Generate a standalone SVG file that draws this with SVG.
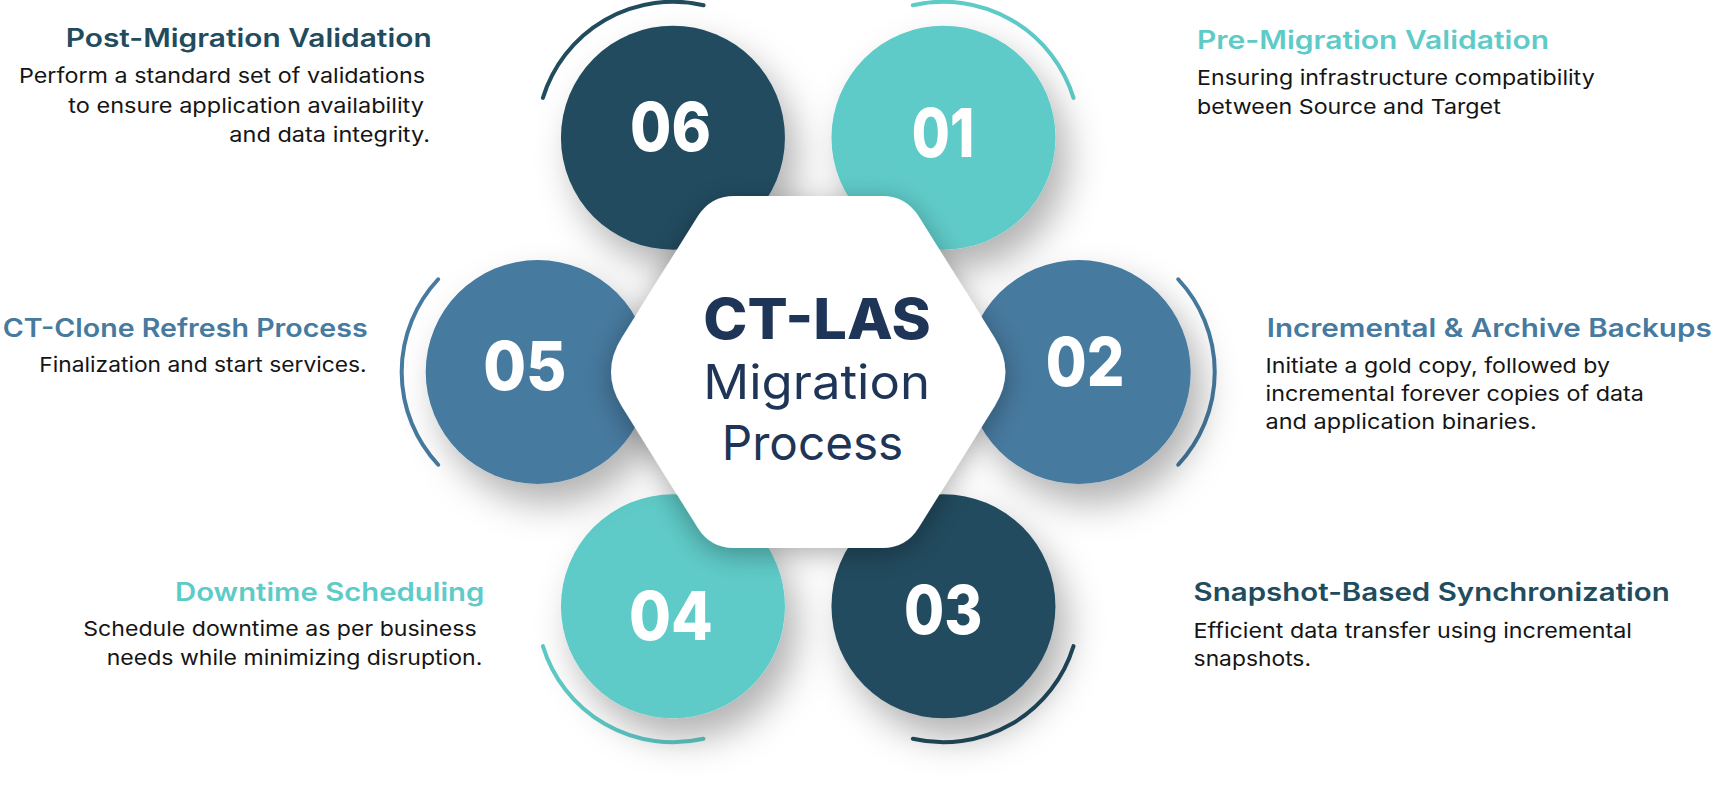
<svg xmlns="http://www.w3.org/2000/svg" width="1715" height="806" viewBox="0 0 1715 806">
<style>
text{font-family:Inter,"Liberation Sans",sans-serif}
.title{font-size:25px;font-weight:600}
.body{font-size:20.5px;font-weight:400;fill:#151515}
.num{font-size:68px;font-weight:800;fill:#ffffff}
.arc{fill:none;stroke-width:4;stroke-linecap:round}
.dark{fill:#214C5E}
.teal{fill:#5ECBC8}
.blue{fill:#467A9F}
.sdark{stroke:#214C5E}
.steal{stroke:#5ECBC8}
.sblue{stroke:#467A9F}
.center{fill:#1E3557}
</style>
<defs>
<filter id="csh" x="-50%" y="-50%" width="200%" height="200%">
<feDropShadow dx="12" dy="20" stdDeviation="18" flood-color="#000" flood-opacity="0.3"/>
</filter>
<filter id="hsh" x="-30%" y="-30%" width="160%" height="160%">
<feDropShadow dx="0" dy="6" stdDeviation="14" flood-color="#000" flood-opacity="0.32"/>
</filter>
</defs>
<rect width="1715" height="806" fill="#ffffff"/>

<g id="node-06">
<path class="arc sdark" d="M 542.9 97.9 A 136 136 0 0 1 703.55 5.2"/>
<circle class="dark" cx="672.95" cy="137.7" r="112" filter="url(#csh)"/>
<text class="num" x="630" y="150.7" textLength="81" lengthAdjust="spacingAndGlyphs">06</text>
<text class="title" x="65.7" y="46.7" fill="#214C5E" textLength="366" lengthAdjust="spacingAndGlyphs">Post-Migration Validation</text>
<text class="body" x="19" y="82.7" textLength="406" lengthAdjust="spacingAndGlyphs">Perform a standard set of validations</text>
<text class="body" x="68.3" y="112.7" textLength="355.7" lengthAdjust="spacingAndGlyphs">to ensure application availability</text>
<text class="body" x="229.3" y="141.7" textLength="200.7" lengthAdjust="spacingAndGlyphs">and data integrity.</text>
</g>

<g id="node-01">
<path class="arc steal" d="M 912.85 5.2 A 136 136 0 0 1 1073.5 97.9"/>
<circle class="teal" cx="943.45" cy="137.7" r="112" filter="url(#csh)"/>
<text class="num" x="911.8" y="156.7" textLength="62.5" lengthAdjust="spacingAndGlyphs">01</text>
<text class="title" x="1197" y="48.8" fill="#5ECBC8" textLength="352" lengthAdjust="spacingAndGlyphs">Pre-Migration Validation</text>
<text class="body" x="1197" y="85.3" textLength="397.7" lengthAdjust="spacingAndGlyphs">Ensuring infrastructure compatibility</text>
<text class="body" x="1197" y="114.3" textLength="303.8" lengthAdjust="spacingAndGlyphs">between Source and Target</text>
</g>

<g id="node-02">
<path class="arc sblue" d="M 1178.2 279.25 A 136 136 0 0 1 1178.2 464.75"/>
<circle class="blue" cx="1078.7" cy="372" r="112" filter="url(#csh)"/>
<text class="num" x="1045.8" y="386" textLength="78.7" lengthAdjust="spacingAndGlyphs">02</text>
<text class="title" x="1266.7" y="336.7" fill="#467A9F" textLength="445" lengthAdjust="spacingAndGlyphs">Incremental &amp; Archive Backups</text>
<text class="body" x="1265.5" y="372.7" textLength="344.5" lengthAdjust="spacingAndGlyphs">Initiate a gold copy, followed by</text>
<text class="body" x="1265.5" y="401" textLength="378.5" lengthAdjust="spacingAndGlyphs">incremental forever copies of data</text>
<text class="body" x="1265.5" y="429.3" textLength="271.2" lengthAdjust="spacingAndGlyphs">and application binaries.</text>
</g>

<g id="node-03">
<path class="arc sdark" d="M 1073.5 646.1 A 136 136 0 0 1 912.85 738.8"/>
<circle class="dark" cx="943.45" cy="606.3" r="112" filter="url(#csh)"/>
<text class="num" x="904" y="634" textLength="78.5" lengthAdjust="spacingAndGlyphs">03</text>
<text class="title" x="1193.6" y="601" fill="#214C5E" textLength="476.2" lengthAdjust="spacingAndGlyphs">Snapshot-Based Synchronization</text>
<text class="body" x="1193.6" y="637.8" textLength="438.4" lengthAdjust="spacingAndGlyphs">Efficient data transfer using incremental</text>
<text class="body" x="1193.6" y="665.8" textLength="117.4" lengthAdjust="spacingAndGlyphs">snapshots.</text>
</g>

<g id="node-04">
<path class="arc steal" d="M 703.55 738.8 A 136 136 0 0 1 542.9 646.1"/>
<circle class="teal" cx="672.95" cy="606.3" r="112" filter="url(#csh)"/>
<text class="num" x="629" y="640" textLength="83.9" lengthAdjust="spacingAndGlyphs">04</text>
<text class="title" x="175" y="601" fill="#5ECBC8" textLength="309.3" lengthAdjust="spacingAndGlyphs">Downtime Scheduling</text>
<text class="body" x="83.3" y="636" textLength="393.4" lengthAdjust="spacingAndGlyphs">Schedule downtime as per business</text>
<text class="body" x="106.7" y="665" textLength="375.6" lengthAdjust="spacingAndGlyphs">needs while minimizing disruption.</text>
</g>

<g id="node-05">
<path class="arc sblue" d="M 438.2 464.75 A 136 136 0 0 1 438.2 279.25"/>
<circle class="blue" cx="537.7" cy="372" r="112" filter="url(#csh)"/>
<text class="num" x="483.2" y="390" textLength="83.3" lengthAdjust="spacingAndGlyphs">05</text>
<text class="title" x="2.7" y="336.7" fill="#467A9F" textLength="365" lengthAdjust="spacingAndGlyphs">CT-Clone Refresh Process</text>
<text class="body" x="39.3" y="371.7" textLength="327.4" lengthAdjust="spacingAndGlyphs">Finalization and start services.</text>
</g>

<g id="connectors"></g>

<g id="center-hub">
<path fill="#ffffff" filter="url(#hsh)" d="M 734.5 196 L 881.9 196 Q 905.9 196 918.6 216.35 L 994.8 338.1 Q 1016 372 994.8 405.9 L 918.6 527.65 Q 905.9 548 881.9 548 L 734.5 548 Q 710.5 548 697.8 527.65 L 621.6 405.9 Q 600.4 372 621.6 338.1 L 697.8 216.35 Q 710.5 196 734.5 196 Z"/>
<text class="center" x="703.3" y="339.3" font-size="56" font-weight="800" textLength="227.4" lengthAdjust="spacingAndGlyphs">CT-LAS</text>
<text class="center" x="703.3" y="399.3" font-size="48" font-weight="400" textLength="226.7" lengthAdjust="spacingAndGlyphs">Migration</text>
<text class="center" x="721.7" y="460" font-size="48" font-weight="400" textLength="181.6" lengthAdjust="spacingAndGlyphs">Process</text>
</g>
</svg>
